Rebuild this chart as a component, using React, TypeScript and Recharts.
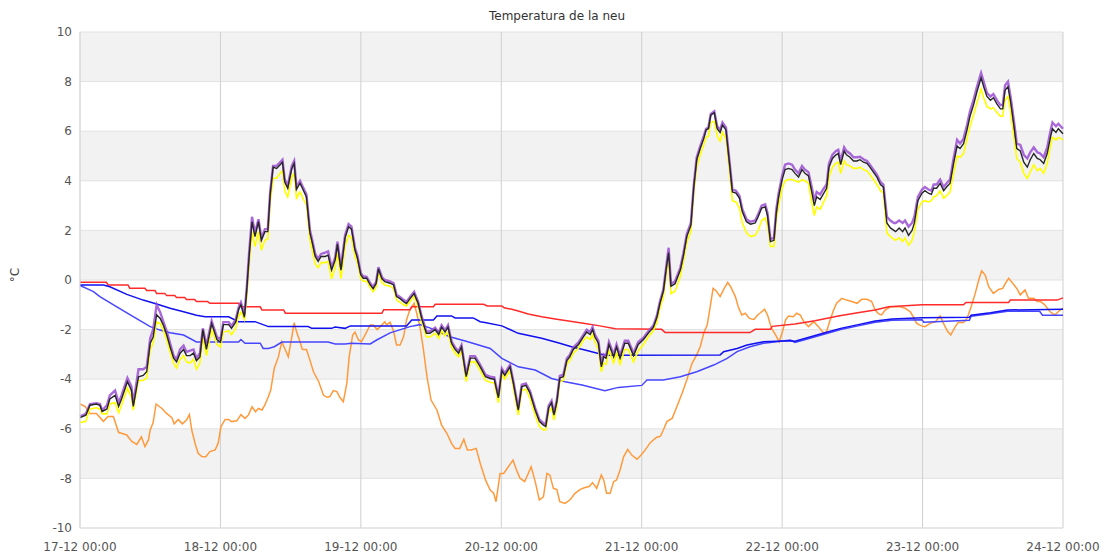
import { LineChart, Line, XAxis, YAxis, CartesianGrid } from 'recharts'

// hours since 17-12 00:00, one tick per day
const X_TICKS = [0, 24, 48, 72, 96, 120, 144, 168]
const X_LABELS = ['17-12 00:00', '18-12 00:00', '19-12 00:00', '20-12 00:00', '21-12 00:00', '22-12 00:00', '23-12 00:00', '24-12 00:00']
const Y_TICKS = [-10, -8, -6, -4, -2, 0, 2, 4, 6, 8, 10]

// snow surface readings (three sensors share the same timestamps)
const SNOW_T = [
  0, 1.0, 1.7, 2.8, 3.4, 3.8, 4.6, 5.1, 6.0, 6.6,
  7.1, 8.1, 8.8, 9.1, 10.0, 10.8, 11.4, 12.0, 12.5, 13.1,
  13.7, 14.2, 14.8, 15.4, 16.0, 16.5, 17.1, 17.7, 18.2, 18.8,
  19.4, 19.9, 20.5, 21.0, 21.6, 22.5, 23.4, 24.0, 24.5, 25.4,
  25.9, 26.6, 27.1, 27.5, 28.1, 28.5, 28.9, 29.4, 29.9, 30.5,
  31.0, 31.6, 32.1, 32.5, 33.0, 33.6, 34.2, 34.6, 35.0, 35.5,
  36.2, 36.6, 37.0, 37.6, 38.3, 38.7, 39.3, 39.7, 40.2, 40.7,
  41.2, 41.9, 42.4, 43.0, 43.6, 44.0, 44.6, 45.3, 45.9, 46.4,
  47.0, 47.4, 48.0, 48.4, 49.0, 49.6, 50.1, 50.6, 51.0, 51.6,
  52.1, 53.0, 53.6, 54.1, 54.7, 55.3, 55.8, 56.4, 57.1, 57.8,
  58.4, 59.2, 59.8, 60.7, 61.3, 61.8, 62.4, 62.9, 63.5, 64.1,
  64.7, 65.2, 66.0, 66.7, 67.5, 68.4, 69.3, 70.1, 70.8, 71.5,
  72.1, 72.6, 73.5, 74.1, 74.9, 75.5, 76.2, 76.9, 77.8, 78.5,
  79.2, 79.6, 80.1, 80.6, 81.0, 81.5, 82.0, 82.6, 83.2, 83.7,
  84.3, 85.2, 86.0, 86.6, 87.2, 87.6, 88.0, 88.6, 89.1, 89.5,
  89.9, 90.4, 91.2, 91.7, 92.3, 93.1, 93.7, 94.6, 95.4, 96.3,
  97.1, 98.0, 98.6, 99.1, 99.7, 100.3, 100.6, 101.0, 101.7, 102.6,
  103.1, 103.7, 104.4, 104.9, 105.4, 106.0, 106.6, 107.0, 107.4, 107.8,
  108.4, 108.9, 109.4, 109.8, 110.4, 111.0, 111.5, 112.1, 112.7, 113.2,
  113.9, 114.6, 115.4, 115.9, 116.5, 117.1, 117.5, 118.0, 118.6, 119.0,
  119.4, 120.0, 120.5, 121.1, 121.7, 122.2, 122.8, 123.4, 123.9, 124.5,
  125.1, 125.5, 125.9, 126.5, 127.0, 127.6, 128.0, 128.6, 129.2, 129.6,
  130.0, 130.6, 131.0, 131.6, 132.2, 132.8, 133.3, 133.9, 134.5, 135.0,
  135.6, 136.2, 136.8, 137.3, 137.9, 138.5, 139.1, 139.4, 140.0, 140.6,
  141.0, 141.6, 142.2, 142.6, 143.2, 143.9, 144.4, 145.0, 145.5, 145.9,
  146.4, 147.0, 147.6, 148.1, 148.7, 149.3, 149.9, 150.4, 151.0, 151.6,
  152.1, 152.7, 153.3, 154.0, 154.5, 155.0, 155.6, 156.1, 156.7, 157.3,
  157.7, 158.1, 158.6, 159.1, 159.7, 160.1, 160.7, 161.3, 161.9, 162.4,
  163.0, 163.6, 164.1, 164.7, 165.3, 165.9, 166.2, 166.8, 167.2, 168.0,
]

const SNOW_BLACK = [
  -5.55, -5.45, -5.05, -5.0, -5.05, -5.3, -5.2, -4.8, -4.65, -5.1,
  -4.8, -4.1, -4.45, -5.1, -3.9, -3.85, -3.7, -2.55, -2.3, -1.4,
  -1.55, -1.8, -2.2, -2.7, -3.15, -3.3, -2.95, -2.8, -3.05, -3.05,
  -2.95, -3.25, -3.1, -2.0, -2.8, -1.75, -2.4, -2.5, -1.8, -1.8,
  -1.95, -1.7, -1.2, -1.0, -1.5, -0.4, 0.95, 2.35, 1.75, 2.35,
  1.6, 1.95, 1.95, 3.45, 4.55, 4.5, 4.65, 4.75, 3.95, 3.7,
  4.5, 4.7, 3.65, 3.9, 3.55, 3.35, 1.9, 1.5, 0.95, 0.75,
  0.95, 0.95, 1.0, 0.4, 0.8, 1.45, 0.4, 1.7, 2.15, 2.05,
  1.2, 0.9, 0.2, 0.07, 0.07, -0.2, -0.35, -0.15, 0.45, 0.05,
  -0.07, -0.13, -0.2, -0.67, -0.75, -0.87, -0.95, -0.75, -0.55, -0.95,
  -1.55, -2.15, -2.15, -2.0, -2.2, -1.9, -2.1, -1.9, -2.55, -2.8,
  -2.95, -2.7, -3.9, -3.15, -3.15, -3.5, -3.9, -3.97, -4.0, -4.75,
  -3.65, -3.85, -3.5, -4.2, -5.25, -4.3, -4.25, -4.55, -5.25, -5.7,
  -5.85, -5.9, -5.15, -4.95, -5.45, -4.9, -3.95, -3.9, -3.25, -3.1,
  -2.8, -2.6, -2.3, -2.1, -2.2, -2.0, -2.3, -2.55, -3.5, -3.1,
  -3.15, -2.6, -3.1, -2.7, -3.15, -2.55, -2.55, -3.05, -2.6, -2.4,
  -2.15, -1.9, -1.5, -0.95, -0.45, 0.65, 1.1, -0.25, -0.15, 0.4,
  0.95, 1.75, 2.2, 3.75, 4.85, 5.3, 5.7, 6.05, 6.1, 6.65,
  6.75, 6.1, 5.95, 6.25, 6.05, 4.7, 3.55, 3.5, 3.3, 2.75,
  2.35, 2.25, 2.3, 2.55, 2.9, 2.95, 2.6, 1.55, 1.6, 2.7,
  3.35, 4.05, 4.45, 4.5, 4.45, 4.3, 4.15, 4.45, 4.3, 4.2,
  3.5, 3.0, 3.35, 3.25, 3.45, 3.7, 4.55, 4.9, 5.05, 5.1,
  4.65, 5.2, 5.05, 4.95, 4.8, 4.8, 4.85, 4.75, 4.7, 4.55,
  4.35, 4.15, 3.85, 3.75, 2.3, 2.1, 2.0, 1.95, 2.1, 1.95,
  2.1, 1.8, 2.0, 2.3, 3.2, 3.5, 3.6, 3.5, 3.45, 3.7,
  3.7, 3.9, 3.6, 3.75, 3.9, 4.7, 5.4, 5.3, 5.5, 6.05,
  6.6, 7.05, 7.6, 8.15, 7.75, 7.4, 7.25, 7.35, 7.1, 6.9,
  6.9, 7.65, 7.8, 7.1, 6.05, 5.3, 5.2, 4.75, 4.55, 4.85,
  5.1, 4.9, 4.85, 4.7, 5.1, 5.8, 6.1, 5.95, 6.1, 5.9,
]

const SNOW_PURPLE = [
  -5.5, -5.4, -5.0, -4.97, -5.0, -5.25, -5.05, -4.65, -4.45, -4.95,
  -4.65, -3.95, -4.3, -5.0, -3.6, -3.6, -3.5, -2.35, -2.0, -1.0,
  -1.3, -1.65, -2.05, -2.55, -3.05, -3.2, -2.8, -2.65, -2.9, -2.85,
  -2.8, -3.15, -2.95, -1.95, -2.65, -1.65, -2.3, -2.4, -1.7, -1.7,
  -1.85, -1.6, -1.1, -0.9, -1.4, -0.3, 1.1, 2.55, 1.9, 2.45,
  1.7, 2.05, 2.05, 3.55, 4.6, 4.6, 4.75, 4.85, 4.05, 3.8,
  4.6, 4.8, 3.75, 4.0, 3.65, 3.45, 2.0, 1.6, 1.05, 0.85,
  1.05, 1.1, 1.15, 0.5, 0.9, 1.55, 0.5, 1.8, 2.25, 2.15,
  1.3, 1.0, 0.27, 0.15, 0.13, -0.12, -0.28, -0.08, 0.52, 0.12,
  0.0, -0.06, -0.13, -0.6, -0.68, -0.8, -0.88, -0.68, -0.48, -0.88,
  -1.47, -2.07, -2.07, -1.92, -2.12, -1.82, -2.02, -1.82, -2.47, -2.72,
  -2.87, -2.62, -3.82, -3.07, -3.07, -3.42, -3.82, -3.9, -3.92, -4.67,
  -3.57, -3.77, -3.42, -4.12, -5.17, -4.22, -4.17, -4.47, -5.17, -5.62,
  -5.77, -5.82, -5.07, -4.87, -5.37, -4.82, -3.87, -3.82, -3.17, -3.02,
  -2.72, -2.52, -2.22, -2.0, -2.1, -1.9, -2.2, -2.45, -3.4, -3.0,
  -3.05, -2.5, -3.0, -2.6, -3.05, -2.45, -2.45, -2.95, -2.5, -2.33,
  -2.08, -1.83, -1.43, -0.88, -0.38, 0.75, 1.3, -0.15, -0.05, 0.5,
  1.05, 1.85, 2.3, 3.85, 4.95, 5.4, 5.8, 6.1, 6.15, 6.7,
  6.8, 6.2, 6.05, 6.35, 6.15, 4.8, 3.65, 3.6, 3.4, 2.85,
  2.45, 2.35, 2.4, 2.65, 3.0, 3.05, 2.7, 1.65, 1.7, 2.85,
  3.5, 4.2, 4.65, 4.7, 4.65, 4.45, 4.3, 4.6, 4.45, 4.35,
  3.7, 3.2, 3.55, 3.45, 3.65, 3.85, 4.7, 5.05, 5.2, 5.25,
  4.8, 5.35, 5.2, 5.1, 4.95, 4.95, 4.97, 4.87, 4.8, 4.65,
  4.45, 4.25, 3.95, 3.85, 2.55, 2.4, 2.3, 2.3, 2.4, 2.3,
  2.4, 2.15, 2.3, 2.55, 3.35, 3.65, 3.75, 3.65, 3.6, 3.85,
  3.85, 4.05, 3.75, 3.9, 4.05, 4.9, 5.65, 5.5, 5.7, 6.25,
  6.8, 7.25, 7.8, 8.35, 7.95, 7.55, 7.4, 7.5, 7.25, 7.05,
  7.05, 7.85, 8.0, 7.3, 6.25, 5.5, 5.45, 5.05, 4.9, 5.15,
  5.35, 5.15, 5.1, 4.95, 5.35, 6.05, 6.35, 6.2, 6.3, 6.1,
]

const SNOW_YELLOW = [
  -5.75, -5.7, -5.2, -5.15, -5.2, -5.4, -5.4, -5.0, -4.95, -5.35,
  -5.05, -4.35, -4.75, -5.25, -4.05, -4.05, -3.95, -2.8, -2.55, -1.7,
  -1.75, -2.0, -2.4, -2.9, -3.35, -3.55, -3.2, -3.05, -3.3, -3.35,
  -3.2, -3.6, -3.35, -2.3, -3.05, -2.0, -2.6, -2.7, -2.1, -2.05,
  -2.2, -1.95, -1.45, -1.3, -1.6, -0.7, 0.6, 1.95, 1.35, 1.95,
  1.2, 1.6, 1.65, 3.1, 4.1, 4.1, 4.3, 4.4, 3.6, 3.35,
  4.15, 4.3, 3.3, 3.55, 3.2, 3.05, 1.6, 1.2, 0.65, 0.5,
  0.7, 0.7, 0.75, 0.05, 0.5, 1.1, 0.05, 1.35, 1.8, 1.7,
  0.95, 0.7, 0.05, -0.05, -0.05, -0.32, -0.47, -0.3, 0.3, -0.1,
  -0.2, -0.25, -0.35, -0.8, -0.9, -1.0, -1.05, -0.88, -0.65, -1.08,
  -1.7, -2.3, -2.3, -2.15, -2.35, -2.05, -2.25, -2.1, -2.7, -2.95,
  -3.1, -2.85, -4.1, -3.3, -3.3, -3.65, -4.05, -4.12, -4.15, -4.95,
  -3.8, -4.0, -3.65, -4.4, -5.45, -4.45, -4.4, -4.75, -5.45, -5.9,
  -6.05, -6.05, -5.35, -5.15, -5.65, -5.1, -4.1, -4.05, -3.4, -3.25,
  -2.95, -2.75, -2.45, -2.3, -2.4, -2.2, -2.5, -2.8, -3.7, -3.35,
  -3.4, -2.85, -3.35, -2.95, -3.4, -2.8, -2.8, -3.3, -2.85, -2.6,
  -2.3, -2.05, -1.7, -1.15, -0.7, 0.4, 0.8, -0.55, -0.45, 0.15,
  0.7, 1.5, 1.95, 3.5, 4.55, 5.05, 5.45, 5.75, 5.8, 6.35,
  6.4, 5.8, 5.6, 5.95, 5.7, 4.4, 3.2, 3.15, 2.9, 2.3,
  1.9, 1.75, 1.8, 2.0, 2.4, 2.5, 2.2, 1.35, 1.35, 2.4,
  3.0, 3.7, 4.0, 4.05, 4.05, 4.0, 3.95, 4.05, 4.0, 3.9,
  3.1, 2.6, 2.95, 2.85, 3.1, 3.4, 4.15, 4.55, 4.7, 4.75,
  4.3, 4.8, 4.65, 4.6, 4.5, 4.5, 4.55, 4.45, 4.4, 4.25,
  4.05, 3.85, 3.6, 3.5, 1.9, 1.75, 1.65, 1.6, 1.7, 1.55,
  1.7, 1.4, 1.6, 1.95, 2.85, 3.15, 3.2, 3.15, 3.2, 3.35,
  3.4, 3.6, 3.3, 3.4, 3.55, 4.3, 5.0, 4.95, 5.1, 5.7,
  6.2, 6.65, 7.15, 7.7, 7.3, 7.0, 6.9, 6.95, 6.75, 6.6,
  6.6, 7.25, 7.4, 6.7, 5.6, 4.9, 4.75, 4.3, 4.1, 4.35,
  4.65, 4.4, 4.5, 4.3, 4.7, 5.45, 5.75, 5.65, 5.75, 5.65,
]

const ORANGE_T = [
  0, 0.9, 1.7, 2.8, 4.0, 4.8, 5.7, 6.6, 7.1, 8.0,
  8.8, 9.7, 10.5, 11.1, 11.7, 12.0, 12.5, 13.0, 14.0, 14.8,
  15.7, 16.1, 16.8, 17.5, 18.2, 18.7, 19.1, 19.7, 20.2, 20.8,
  21.5, 22.2, 23.1, 23.6, 24.1, 24.8, 25.4, 25.9, 26.8, 27.5,
  28.2, 28.8, 29.4, 30.0, 30.5, 31.1, 31.6, 32.2, 32.6, 33.2,
  33.9, 34.5, 35.1, 35.6, 36.2, 36.6, 37.0, 37.6, 38.0, 38.7,
  39.3, 39.9, 40.8, 41.6, 42.2, 42.7, 43.3, 43.9, 44.4, 45.0,
  45.6, 46.0, 46.6, 47.0, 47.6, 48.1, 48.7, 49.6, 50.1, 50.8,
  51.6, 52.1, 52.4, 53.0, 53.6, 54.1, 54.7, 55.3, 55.8, 56.4,
  57.1, 57.4, 58.1, 58.7, 59.3, 60.0, 61.0, 61.8, 62.7, 63.5,
  64.1, 64.9, 65.6, 66.2, 66.9, 67.7, 68.4, 69.3, 70.1, 70.7,
  71.1, 71.8, 72.4, 73.0, 74.0, 74.6, 75.2, 76.0, 76.5, 77.1,
  77.8, 78.5, 79.2, 79.8, 80.3, 80.9, 81.5, 82.0, 82.9, 83.8,
  84.6, 85.5, 86.3, 87.0, 87.6, 88.3, 89.1, 89.5, 90.0, 90.6,
  91.2, 91.7, 92.3, 92.9, 93.6, 94.3, 95.2, 95.9, 96.6, 97.5,
  98.5, 99.2, 99.7, 100.3, 101.2, 102.0, 102.9, 103.7, 104.6, 105.4,
  106.0, 106.6, 107.2, 107.7, 108.2, 108.7, 109.4, 110.1, 110.7, 111.2,
  112.0, 112.5, 113.1, 113.7, 114.4, 115.2, 115.8, 116.3, 117.0, 117.5,
  118.2, 118.9, 119.5, 120.1, 120.6, 121.1, 121.9, 122.5, 123.1, 123.7,
  124.5, 125.4, 126.2, 127.1, 127.6, 128.2, 128.8, 129.3, 130.2, 131.0,
  131.9, 132.8, 133.6, 134.5, 135.3, 135.9, 136.5, 137.0, 137.6, 138.5,
  139.3, 140.2, 141.0, 141.9, 142.4, 143.0, 143.8, 144.4, 145.3, 146.2,
  147.0, 147.7, 148.3, 148.8, 149.6, 150.1, 151.0, 151.6, 152.3, 153.0,
  153.6, 154.1, 154.7, 155.3, 156.1, 157.0, 157.7, 158.1, 158.7, 159.4,
  160.1, 160.7, 161.5, 162.1, 163.0, 163.6, 164.2, 164.9, 165.8, 166.6,
  167.5, 168.0,
]

const ORANGE_V = [
  -5.0, -5.1, -5.38, -5.38, -5.7, -5.5, -5.5, -6.15, -6.18, -6.25,
  -6.5, -6.63, -6.32, -6.72, -6.45, -6.05, -5.75, -5.0, -5.18, -5.38,
  -5.55, -5.8, -5.62, -5.8, -5.65, -5.43, -6.05, -6.62, -6.99, -7.12,
  -7.13, -6.92, -6.85, -6.59, -5.91, -5.62, -5.62, -5.71, -5.68, -5.43,
  -5.58, -5.44, -5.11, -5.31, -5.18, -5.24, -5.04, -4.7, -4.44, -3.56,
  -3.1, -2.49, -2.82, -3.1, -2.29, -1.72, -2.08, -2.49, -2.8, -2.8,
  -3.23, -3.7, -4.1, -4.64, -4.73, -4.7, -4.46, -4.5, -4.73, -4.91,
  -4.17, -3.1, -2.22, -2.1, -2.42, -2.49, -2.22, -1.81, -1.81, -2.0,
  -1.81, -1.68, -1.81, -1.7, -2.08, -2.62, -2.62, -2.29, -1.61, -1.18,
  -0.94, -1.21, -1.88, -2.82, -3.9, -4.84, -5.24, -5.85, -6.18, -6.59,
  -6.79, -6.79, -6.42, -6.85, -6.85, -6.79, -7.39, -8.06, -8.47, -8.6,
  -8.94, -7.8, -7.8, -7.6, -7.26, -7.66, -7.99, -8.13, -7.86, -7.53,
  -8.13, -8.87, -8.74, -7.8, -7.86, -8.4, -8.45, -8.94, -9.01, -8.85,
  -8.6, -8.44, -8.37, -8.33, -8.17, -8.4, -7.86, -8.06, -8.6, -8.6,
  -8.13, -8.06, -7.66, -7.13, -6.83, -7.06, -7.23, -7.06, -6.85, -6.55,
  -6.35, -6.3, -6.05, -5.71, -5.58, -5.11, -4.57, -4.03, -3.36, -3.02,
  -2.69, -2.15, -1.81, -1.08, -0.34, -0.43, -0.67, -0.34, -0.1, -0.27,
  -0.67, -1.08, -1.41, -1.34, -1.55, -1.59, -1.41, -1.32, -1.18, -1.41,
  -1.95, -2.22, -2.49, -2.05, -1.6, -1.45, -1.48, -1.34, -1.41, -1.68,
  -1.88, -1.68, -1.88, -2.15, -2.08, -1.61, -1.21, -0.94, -0.74, -0.81,
  -0.87, -0.94, -0.78, -0.78, -0.87, -1.21, -1.37, -1.41, -1.21, -1.08,
  -1.08, -1.08, -1.14, -1.28, -1.48, -1.75, -1.85, -1.88, -1.75, -1.68,
  -1.45, -1.81, -2.08, -2.22, -1.88, -1.71, -1.71, -1.55, -1.08, -0.54,
  0.0, 0.37, 0.2, -0.27, -0.54, -0.38, -0.34, -0.16, 0.07, -0.13,
  -0.34, -0.6, -0.4, -0.74, -0.74, -0.87, -0.87, -1.01, -1.28, -1.41,
  -1.21, -1.14,
]

const RED_T = [
  0, 4.5, 4.8, 8.2, 8.5, 11.1, 11.4, 12.8, 13.1, 14.5,
  14.8, 16.2, 16.5, 17.9, 18.2, 19.6, 19.9, 21.8, 22.2, 27.1,
  27.5, 30.8, 31.1, 34.8, 35.1, 51.6, 51.9, 56.4, 56.7, 60.4,
  60.7, 69.0, 69.6, 72.1, 72.5, 73.8, 74.9, 76.6, 78.9, 81.2,
  83.5, 86.3, 88.6, 91.5, 99.4, 100.0, 114.5, 115.4, 118.0, 118.3,
  122.2, 125.6, 129.6, 132.9, 135.9, 138.2, 143.9, 151.0, 151.4, 158.7,
  159.0, 167.0, 168.0,
]
const RED_V = [
  -0.09, -0.09, -0.2, -0.2, -0.33, -0.33, -0.42, -0.42, -0.54, -0.54,
  -0.63, -0.63, -0.71, -0.71, -0.79, -0.79, -0.87, -0.87, -0.94, -0.94,
  -1.08, -1.08, -1.21, -1.21, -1.34, -1.34, -1.2, -1.2, -1.08, -1.08,
  -0.98, -0.98, -1.05, -1.05, -1.12, -1.18, -1.25, -1.37, -1.48, -1.57,
  -1.65, -1.75, -1.84, -1.97, -1.99, -2.12, -2.12, -1.99, -1.99, -1.87,
  -1.77, -1.64, -1.45, -1.32, -1.21, -1.08, -1.0, -1.0, -0.91, -0.91,
  -0.81, -0.81, -0.72,
]

const BLUE_A_T = [
  0, 4.0, 5.1, 8.0, 10.8, 13.1, 15.4, 17.7, 19.9, 21.4,
  25.4, 27.1, 29.9, 32.2, 39.0, 39.6, 43.0, 43.6, 45.3, 46.2,
  55.8, 56.7, 60.4, 61.0, 63.5, 64.1, 67.2, 68.4, 69.2, 72.1,
  74.9, 78.9, 81.7, 84.0, 86.3, 88.6, 89.7, 109.4, 110.0, 112.3,
  114.0, 116.8, 121.4, 122.2, 124.0, 127.0, 130.0, 133.0, 135.9, 138.8,
  143.9, 152.0, 152.3, 155.6, 158.5, 168.0,
]
const BLUE_A_V = [
  -0.2, -0.2, -0.27, -0.58, -0.81, -0.97, -1.14, -1.28, -1.42, -1.48,
  -1.48, -1.68, -1.68, -1.88, -1.88, -1.95, -1.95, -1.9, -1.95, -1.85,
  -1.85, -1.61, -1.61, -1.45, -1.45, -1.53, -1.53, -1.68, -1.71, -1.85,
  -2.15, -2.35, -2.53, -2.69, -2.82, -2.96, -3.03, -3.02, -2.89, -2.76,
  -2.62, -2.49, -2.45, -2.47, -2.35, -2.15, -1.95, -1.8, -1.65, -1.57,
  -1.52, -1.5, -1.42, -1.32, -1.21, -1.18,
]

const BLUE_B_T = [
  0, 1.1, 2.3, 3.4, 6.3, 9.1, 12.0, 13.7, 15.4, 17.7,
  19.9, 22.2, 27.1, 27.5, 28.2, 30.8, 31.3, 32.2, 33.2, 34.5,
  42.4, 43.6, 45.3, 46.4, 49.6, 50.7, 53.0, 56.4, 58.1, 60.0,
  63.2, 66.0, 70.1, 72.1, 74.9, 77.8, 80.6, 82.9, 85.8, 89.7,
  92.0, 96.0, 96.9, 99.7, 102.6, 105.4, 108.3, 110.6, 112.3, 114.5,
  116.8, 119.1, 121.4, 122.2, 124.0, 127.0, 130.0, 133.0, 135.9, 138.8,
  143.9, 144.2, 152.0, 152.3, 155.6, 158.5, 164.0, 164.5, 168.0,
]
const BLUE_B_V = [
  -0.22, -0.34, -0.47, -0.67, -1.08, -1.48, -1.88, -2.02, -2.13, -2.22,
  -2.5, -2.5, -2.5, -2.4, -2.55, -2.55, -2.76, -2.76, -2.69, -2.5,
  -2.5, -2.58, -2.58, -2.55, -2.58, -2.42, -2.13, -1.88, -1.8, -1.95,
  -2.29, -2.47, -2.76, -3.16, -3.5, -3.63, -3.97, -4.1, -4.23, -4.46,
  -4.33, -4.25, -4.03, -4.03, -3.9, -3.7, -3.43, -3.16, -2.89, -2.69,
  -2.55, -2.49, -2.42, -2.52, -2.4, -2.2, -2.0, -1.85, -1.7, -1.62,
  -1.6, -1.7, -1.62, -1.46, -1.36, -1.26, -1.26, -1.42, -1.42,
]

function pts(t: number[], v: number[]) {
  return t.map((x, i) => ({ t: x, v: v[i] }))
}

const FONT = '"DejaVu Sans", sans-serif'

export default function App() {
  return (
    <div style={{ position: 'absolute', left: 0, top: 0, width: 1108, height: 556, background: '#fff', fontFamily: FONT }}>
      <div style={{
        position: 'absolute', left: 557, top: 8, transform: 'translateX(-50%)',
        fontSize: 12, color: '#333', whiteSpace: 'nowrap', lineHeight: '16px',
      }}>
        Temperatura de la neu
      </div>
      <div style={{
        position: 'absolute', left: 3, top: 268, width: 24, height: 14, lineHeight: '14px',
        textAlign: 'center', fontSize: 12, color: '#444', transform: 'rotate(-90deg)',
      }}>
        °C
      </div>

      <LineChart width={1108} height={556} margin={{ top: 32, right: 45, bottom: 0, left: 30 }}>
        {/* alternating bands */}
        <CartesianGrid vertical={false} stroke="none" horizontalFill={['#f2f2f2', '#ffffff']} />
        <CartesianGrid vertical={false} stroke="#e2e2e2" />
        <CartesianGrid horizontal={false} stroke="#cfcfcf" />
        <XAxis
          dataKey="t" type="number" domain={[0, 168]} ticks={X_TICKS}
          tickFormatter={v => X_LABELS[Math.round(v / 24)]}
          tick={{ fill: '#555', fontSize: 12, fontFamily: FONT }}
          axisLine={{ stroke: '#dddddd' }} tickLine={false} tickMargin={8} height={28}
          interval={0}
        />
        <YAxis
          type="number" domain={[-10, 10]} ticks={Y_TICKS}
          tick={{ fill: '#555', fontSize: 12, fontFamily: FONT }}
          axisLine={{ stroke: '#dddddd' }} tickLine={false} width={50}
          interval={0}
        />
        <Line data={pts(ORANGE_T, ORANGE_V)} dataKey="v" stroke="#ff9a3c" strokeWidth={1.5} dot={false} isAnimationActive={false} />
        <Line data={pts(RED_T, RED_V)} dataKey="v" stroke="#ff2b2b" strokeWidth={1.5} dot={false} isAnimationActive={false} />
        <Line data={pts(BLUE_B_T, BLUE_B_V)} dataKey="v" stroke="#4646ff" strokeWidth={1.5} dot={false} isAnimationActive={false} />
        <Line data={pts(BLUE_A_T, BLUE_A_V)} dataKey="v" stroke="#1010f0" strokeWidth={1.5} dot={false} isAnimationActive={false} />
        <Line data={pts(SNOW_T, SNOW_YELLOW)} dataKey="v" stroke="#ffff00" strokeWidth={1.6} dot={false} isAnimationActive={false} />
        <Line data={pts(SNOW_T, SNOW_PURPLE)} dataKey="v" stroke="#9b4fd4" strokeWidth={2.4} strokeOpacity={0.85} dot={false} isAnimationActive={false} />
        <Line data={pts(SNOW_T, SNOW_BLACK)} dataKey="v" stroke="#262626" strokeWidth={1.4} dot={false} isAnimationActive={false} />
      </LineChart>
    </div>
  )
}
